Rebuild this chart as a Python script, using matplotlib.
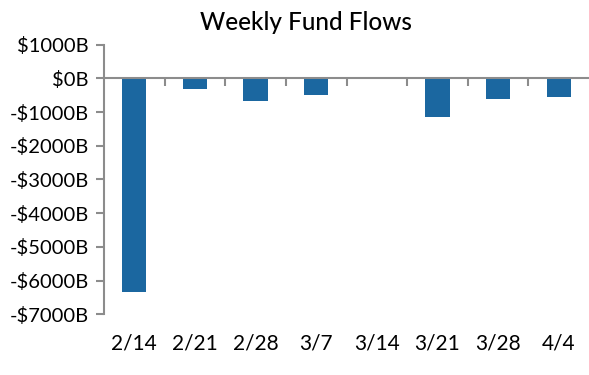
import matplotlib
matplotlib.use("Agg")
import matplotlib.pyplot as plt
import matplotlib.transforms as mtransforms
import numpy as np

weeks = ['2/14', '2/21', '2/28', '3/7', '3/14', '3/21', '3/28', '4/4']
flows = [-6340, -330, -675, -500, 15, -1150, -615, -555]
yticks = [1000, 0, -1000, -2000, -3000, -4000, -5000, -6000, -7000]

plt.rcParams['font.family'] = ['Lato', 'DejaVu Sans']

fig = plt.figure(figsize=(5.89, 3.75), dpi=100)
ax = fig.add_axes([0.1766, 0.162, 0.8234, 0.719])

x = np.arange(len(weeks))
ax.bar(x, flows, width=0.4, color='#1B67A0', zorder=2)

ax.set_xlim(-0.5, len(weeks) - 0.5)
ax.set_ylim(-7000, 1000)

grey = '#8c8c8c'
for s in ['top', 'right']:
    ax.spines[s].set_visible(False)
ax.spines['left'].set_color(grey)
ax.spines['left'].set_linewidth(1.5)
ax.spines['bottom'].set_color(grey)
ax.spines['bottom'].set_linewidth(1.5)
ax.spines['bottom'].set_position(('data', 0))
ax.spines['bottom'].set_zorder(3)

ax.set_yticks(yticks)
ax.set_yticklabels([('-$%dB' % -v) if v < 0 else ('$%dB' % v) for v in yticks],
                   fontsize=14.5)
ax.tick_params(axis='y', length=6, width=1.5, color=grey, pad=5)

ax.set_xticks([])
ax.set_xticks(np.arange(0.5, len(weeks) - 0.5, 1), minor=True)
ax.tick_params(axis='x', which='minor', length=6, width=1.5, color=grey,
               direction='out', labelbottom=False)

trans = mtransforms.blended_transform_factory(ax.transData, ax.transAxes)
for xi, lab in zip(x, weeks):
    ax.text(xi, -0.108, lab, transform=trans, ha='center', va='center', fontsize=15)

fig.text(0.519, 0.94, 'Weekly Fund Flows', ha='center', va='center', fontsize=17.5,
         fontweight='medium')

fig.savefig('out.png', dpi=100)
